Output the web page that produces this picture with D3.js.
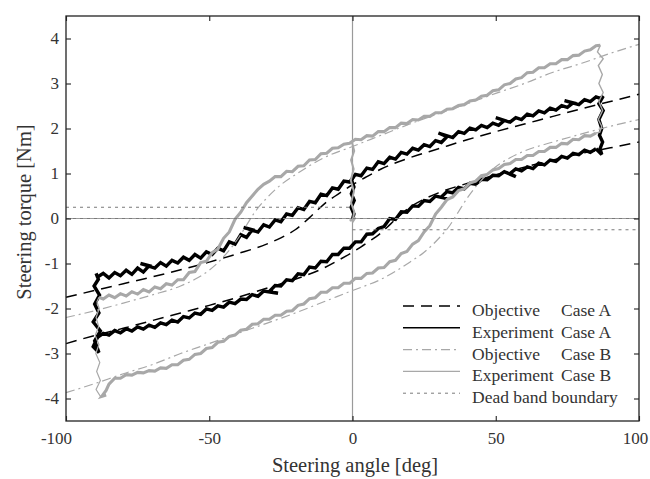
<!DOCTYPE html>
<html><head><meta charset="utf-8">
<script src="https://cdn.jsdelivr.net/npm/d3@7"></script>
<style>body{margin:0;background:#fff}svg{display:block}</style>
</head><body>
<svg id="c" width="650" height="479"></svg>
<script>
// ---------- data ----------
const xTicks = [-100, -50, 0, 50, 100];
const yTicks = [-4, -3, -2, -1, 0, 1, 2, 3, 4];

// Objective, Case A (upper and lower branches) [angle, torque]
const objA_upper = [[-100,-1.75],[-90,-1.6],[-80,-1.45],[-70,-1.3],[-60,-1.14],[-50,-0.97],[-40,-0.78],[-30,-0.57],[-25,-0.43],[-20,-0.25],[-15,0.02],[-12,0.2],[-9,0.37],[-6,0.5],[-3,0.63],[0,0.75],[5,0.93],[10,1.1],[20,1.35],[30,1.55],[40,1.75],[50,1.93],[60,2.1],[70,2.27],[80,2.44],[90,2.6],[100,2.76]];
const objA_lower = [[-100,-2.78],[-90,-2.6],[-80,-2.44],[-70,-2.27],[-60,-2.1],[-50,-1.93],[-40,-1.75],[-30,-1.55],[-20,-1.35],[-10,-1.1],[-5,-0.93],[0,-0.75],[3,-0.63],[6,-0.5],[9,-0.37],[12,-0.2],[15,-0.02],[20,0.25],[25,0.43],[30,0.57],[40,0.78],[50,0.97],[60,1.14],[70,1.3],[80,1.45],[90,1.57],[100,1.7]];

// Objective, Case B
const objB_upper = [[-100,-2.2],[-90,-2.05],[-80,-1.88],[-70,-1.7],[-60,-1.5],[-55,-1.35],[-50,-1.15],[-45,-0.85],[-40,-0.45],[-37,-0.15],[-34,0.15],[-30,0.45],[-25,0.75],[-20,0.97],[-10,1.35],[0,1.6],[10,1.85],[20,2.1],[30,2.33],[40,2.55],[50,2.78],[60,3.0],[70,3.25],[80,3.45],[90,3.67],[100,3.87]];
const objB_lower = [[-100,-3.87],[-90,-3.67],[-80,-3.45],[-70,-3.25],[-60,-3.0],[-50,-2.78],[-40,-2.55],[-30,-2.33],[-20,-2.1],[-10,-1.85],[0,-1.6],[10,-1.35],[20,-0.97],[25,-0.75],[30,-0.45],[34,-0.15],[37,0.15],[40,0.45],[45,0.85],[50,1.15],[55,1.35],[60,1.5],[70,1.7],[80,1.88],[90,2.05],[100,2.2]];

// Experiment, Case A
const expA_start = [[0,-0.02],[0.5,0.1],[-0.5,0.25],[0.6,0.4],[-0.4,0.55],[0.5,0.7],[-0.3,0.85],[0.4,0.95]];
const expA_upper = [[-89,-1.30],[-87,-1.22],[-85,-1.32],[-83,-1.2],[-81,-1.27],[-79,-1.15],[-77,-1.24],[-75,-1.1],[-73,-1.19],[-71,-1.05],[-74,-1.0],[-69,-1.1],[-67,-0.98],[-65,-1.06],[-63,-0.93],[-61,-0.99],[-59,-0.86],[-57,-0.93],[-55,-0.8],[-53,-0.88],[-51,-0.74],[-49,-0.8],[-47,-0.66],[-45,-0.72],[-43,-0.52],[-41,-0.57],[-39,-0.36],[-37,-0.42],[-35,-0.25],[-38,-0.2],[-33,-0.3],[-31,-0.14],[-29,-0.19],[-27,-0.03],[-25,-0.07],[-23,0.1],[-21,0.07],[-19,0.24],[-17,0.2],[-15,0.38],[-13,0.35],[-11,0.54],[-9,0.51],[-7,0.68],[-5,0.65],[-3,0.83],[-1,0.81],[1,0.98],[3,0.95],[5,1.12],[7,1.09],[9,1.26],[11,1.22],[13,1.36],[15,1.32],[17,1.47],[19,1.43],[21,1.56],[23,1.52],[25,1.64],[27,1.6],[29,1.73],[31,1.69],[33,1.82],[30,1.9],[35,1.8],[37,1.93],[39,1.89],[41,2.01],[43,1.97],[45,2.07],[47,2.02],[49,2.12],[51,2.07],[53,2.18],[50,2.24],[55,2.14],[57,2.24],[59,2.2],[61,2.32],[63,2.28],[65,2.39],[67,2.35],[69,2.45],[71,2.41],[73,2.51],[75,2.47],[77,2.57],[74,2.62],[79,2.53],[81,2.64],[83,2.6],[85,2.7],[86.5,2.67]];
const expA_right = [[86.5,2.67],[87.5,2.72],[86,2.55],[87.5,2.4],[86,2.2],[87,2.0],[86.2,1.85],[87.3,1.7],[86.4,1.55],[87,1.42],[85,1.55]];
const expA_lower = [[85,1.55],[83,1.47],[81,1.52],[79,1.42],[77,1.45],[75,1.34],[73,1.38],[71,1.27],[69,1.3],[67,1.19],[65,1.23],[63,1.11],[61,1.15],[59,1.06],[57,1.1],[55,1.0],[57,0.93],[53,1.04],[51,0.95],[49,0.96],[47,0.86],[45,0.87],[43,0.76],[41,0.78],[39,0.66],[37,0.69],[35,0.57],[33,0.6],[31,0.48],[33,0.44],[29,0.5],[27,0.38],[25,0.4],[23,0.27],[21,0.28],[19,0.14],[17,0.15],[15,-0.02],[13,0.0],[11,-0.18],[9,-0.22],[7,-0.34],[5,-0.35],[3,-0.52],[1,-0.52],[-1,-0.66],[-3,-0.66],[-5,-0.8],[-7,-0.8],[-9,-0.96],[-11,-0.95],[-13,-1.1],[-15,-1.08],[-17,-1.25],[-19,-1.23],[-21,-1.38],[-23,-1.36],[-25,-1.5],[-27,-1.49],[-29,-1.62],[-26,-1.66],[-31,-1.61],[-33,-1.73],[-35,-1.69],[-37,-1.8],[-39,-1.79],[-41,-1.89],[-43,-1.86],[-45,-1.97],[-47,-1.94],[-49,-2.04],[-51,-2.01],[-53,-2.13],[-55,-2.1],[-57,-2.21],[-59,-2.18],[-61,-2.3],[-63,-2.26],[-65,-2.36],[-67,-2.32],[-69,-2.42],[-71,-2.37],[-73,-2.46],[-75,-2.41],[-77,-2.5],[-79,-2.45],[-81,-2.54],[-83,-2.49],[-85,-2.59],[-87,-2.55],[-89,-2.64]];
const expA_left = [[-89,-2.64],[-90.5,-2.85],[-88.5,-2.98],[-90,-2.72],[-88,-2.5],[-90.5,-2.3],[-88.5,-2.1],[-90,-1.9],[-88.3,-1.7],[-90.2,-1.5],[-88.7,-1.35],[-89.5,-1.22],[-89,-1.3]];

// Experiment, Case B
const expB_start = [[-1,-0.05],[1,0.02],[0,-0.08],[0.6,0.15],[-0.5,0.35],[0.5,0.6],[-0.6,0.85],[0.4,1.1],[-0.5,1.3],[0.6,1.5],[-0.2,1.7]];
const expB_upper = [[-88.5,-1.75],[-87,-1.79],[-85,-1.7],[-83,-1.76],[-81,-1.67],[-79,-1.72],[-77,-1.63],[-75,-1.68],[-73,-1.58],[-71,-1.63],[-69,-1.52],[-67,-1.56],[-65,-1.45],[-63,-1.48],[-61,-1.36],[-59,-1.36],[-57,-1.2],[-55,-1.18],[-53,-0.98],[-51,-0.95],[-49,-0.76],[-47,-0.68],[-45,-0.44],[-43,-0.3],[-41,-0.02],[-39,0.14],[-37,0.35],[-35,0.5],[-33,0.65],[-31,0.76],[-29,0.83],[-27,0.93],[-25,0.93],[-23,1.05],[-21,1.04],[-19,1.16],[-17,1.17],[-15,1.3],[-13,1.31],[-11,1.44],[-9,1.45],[-7,1.56],[-5,1.57],[-3,1.65],[-1,1.67],[1,1.76],[3,1.75],[5,1.84],[7,1.83],[9,1.93],[11,1.93],[13,2.02],[15,2.02],[17,2.12],[19,2.11],[21,2.2],[23,2.19],[25,2.27],[27,2.27],[29,2.35],[31,2.35],[33,2.43],[35,2.44],[37,2.51],[39,2.53],[41,2.61],[43,2.63],[45,2.72],[47,2.74],[49,2.84],[51,2.86],[53,2.97],[55,3.0],[57,3.1],[59,3.13],[61,3.24],[63,3.25],[65,3.35],[67,3.35],[69,3.44],[71,3.44],[73,3.53],[75,3.53],[77,3.62],[79,3.63],[81,3.72],[83,3.75],[85,3.84],[86.5,3.85]];
const expB_right = [[86.5,3.85],[85.5,3.7],[87.5,3.55],[85.8,3.4],[87.2,3.2],[86,3.0],[87.5,2.8],[86,2.6],[87.3,2.4],[85.8,2.2],[87,2.05],[86.3,1.92],[85,1.9]];
const expB_lower = [[85,1.9],[83,1.83],[81,1.84],[79,1.75],[77,1.76],[75,1.66],[73,1.67],[71,1.58],[69,1.58],[67,1.49],[65,1.49],[63,1.4],[61,1.4],[59,1.31],[57,1.31],[55,1.22],[53,1.2],[51,1.11],[49,1.08],[47,0.98],[45,0.95],[43,0.83],[41,0.79],[39,0.66],[37,0.62],[35,0.48],[33,0.42],[31,0.25],[29,0.1],[27,-0.16],[25,-0.3],[23,-0.49],[21,-0.57],[19,-0.73],[17,-0.78],[15,-0.93],[13,-0.96],[11,-1.09],[9,-1.1],[7,-1.21],[5,-1.22],[3,-1.33],[1,-1.33],[-1,-1.44],[-3,-1.44],[-5,-1.54],[-7,-1.54],[-9,-1.64],[-11,-1.64],[-13,-1.76],[-15,-1.78],[-17,-1.9],[-19,-1.93],[-21,-2.05],[-23,-2.06],[-25,-2.15],[-27,-2.15],[-29,-2.24],[-31,-2.24],[-33,-2.34],[-35,-2.35],[-37,-2.46],[-39,-2.48],[-41,-2.59],[-43,-2.62],[-45,-2.73],[-47,-2.75],[-49,-2.87],[-51,-2.89],[-53,-3.0],[-55,-3.02],[-57,-3.13],[-59,-3.15],[-61,-3.25],[-63,-3.25],[-65,-3.33],[-67,-3.32],[-69,-3.39],[-71,-3.38],[-73,-3.43],[-75,-3.42],[-77,-3.48],[-79,-3.47],[-81,-3.55],[-83,-3.55],[-85,-3.68],[-86,-3.82],[-87.5,-3.95],[-86,-3.92]];
const expB_left = [[-86,-3.92],[-88,-3.95],[-89.5,-3.8],[-88,-3.6],[-89.3,-3.4],[-88.2,-3.2],[-89.6,-3.0],[-88.5,-2.8],[-89.8,-2.6],[-88.6,-2.4],[-89.5,-2.2],[-88.4,-2.0],[-89.2,-1.85],[-88.5,-1.75]];

// Dead band boundary
const deadBand = [
  [[-100,0.25],[0,0.25]],
  [[-100,0],[100,0]],
  [[0,-0.25],[100,-0.25]]
];

const legendLabels = [
  ["Objective","Case A"],
  ["Experiment","Case A"],
  ["Objective","Case B"],
  ["Experiment","Case B"],
  ["Dead band boundary",""]
];

// ---------- drawing ----------
const svg = d3.select("#c");
const L = 66, R = 639, T = 16, B = 421;
const x = d3.scaleLinear().domain([-100,100]).range([L,R]);
const y = d3.scaleLinear().domain([-4.5,4.5]).range([B,T]);
const font = "'Liberation Serif','Times New Roman',serif";
const line = d3.line().x(d=>x(d[0])).y(d=>y(d[1]));
const smooth = d3.line().x(d=>x(d[0])).y(d=>y(d[1])).curve(d3.curveMonotoneX);

const gray = "#a8a8a8";

// zero axes
svg.append("line").attr("x1",x(0)).attr("x2",x(0)).attr("y1",T).attr("y2",B)
  .attr("stroke","#9a9a9a").attr("stroke-width",1.2);
svg.append("line").attr("x1",L).attr("x2",R).attr("y1",y(0)).attr("y2",y(0))
  .attr("stroke","#9a9a9a").attr("stroke-width",1.2);

const styles = {
  objA: {stroke:"#000", width:1.5, dash:"11,7"},
  expA: {stroke:"#000", width:3.4, dash:null},
  objB: {stroke:gray, width:1.2, dash:"9,4,2,4"},
  expB: {stroke:gray, width:3.1, dash:null},
  dead: {stroke:"#7a7a7a", width:1, dash:"3,4"}
};

function draw(data, st, gen) {
  svg.append("path").datum(data).attr("d", gen || line)
    .attr("fill","none").attr("stroke",st.stroke).attr("stroke-width",st.width)
    .attr("stroke-linejoin","miter").attr("stroke-miterlimit",4)
    .attr("stroke-dasharray",st.dash);
}

draw(objA_upper, styles.objA, smooth);
draw(objA_lower, styles.objA, smooth);
[expA_start, expA_upper, expA_right, expA_lower, expA_left].forEach(d=>draw(d, styles.expA));
draw(objB_upper, styles.objB, smooth);
draw(objB_lower, styles.objB, smooth);
draw(expB_right, {stroke:gray,width:1.4});
draw(expB_left, {stroke:gray,width:1.2});
draw(expB_start, {stroke:gray,width:2});
[expB_upper, expB_lower].forEach(d=>draw(d, styles.expB));
deadBand.forEach(d=>draw(d, styles.dead));

// frame
svg.append("rect").attr("x",L).attr("y",T).attr("width",R-L).attr("height",B-T)
  .attr("fill","none").attr("stroke","#222").attr("stroke-width",1.3);

// axes
function styleAxis(g){
  g.select(".domain").remove();
  g.selectAll(".tick line").attr("stroke","#222").attr("stroke-width",1.1);
  g.selectAll("text").attr("font-family",font).attr("font-size",17).attr("fill","#333");
}
const gx = svg.append("g").attr("transform",`translate(0,${B})`)
  .call(d3.axisBottom(x).tickValues(xTicks).tickSizeInner(-5).tickSizeOuter(0).tickPadding(11).tickFormat(d=>String(d)))
  .call(styleAxis);
// keep the end labels inside the figure, as in the reference
gx.selectAll(".tick text").attr("dx", d => d === -100 ? -10 : (d === 100 ? -4 : 0));
svg.append("g").attr("transform",`translate(0,${T})`)
  .call(d3.axisTop(x).tickValues(xTicks).tickSizeInner(-5).tickSizeOuter(0).tickFormat(""))
  .call(styleAxis);
svg.append("g").attr("transform",`translate(${L},0)`)
  .call(d3.axisLeft(y).tickValues(yTicks).tickSizeInner(-5).tickSizeOuter(0).tickPadding(7).tickFormat(d=>String(d)))
  .call(styleAxis);
svg.append("g").attr("transform",`translate(${R},0)`)
  .call(d3.axisRight(y).tickValues(yTicks).tickSizeInner(-5).tickSizeOuter(0).tickFormat(""))
  .call(styleAxis);

// titles
svg.append("text").attr("x",355).attr("y",472).attr("text-anchor","middle")
  .attr("font-family",font).attr("font-size",20.5).attr("fill","#333").text("Steering angle [deg]");
svg.append("text").attr("transform","translate(31,212) rotate(-90)").attr("text-anchor","middle")
  .attr("font-family",font).attr("font-size",20.5).attr("fill","#333").text("Steering torque [Nm]");

// legend
const legStyles = [styles.objA, {stroke:"#000",width:1.6}, styles.objB, {stroke:gray,width:1.2}, styles.dead];
const lg = svg.append("g");
legendLabels.forEach((lab,i)=>{
  const by = 316 + i*21.8;
  lg.append("line").attr("x1",403).attr("x2",460).attr("y1",by-10).attr("y2",by-10)
    .attr("stroke",legStyles[i].stroke).attr("stroke-width",legStyles[i].width)
    .attr("stroke-dasharray",legStyles[i].dash);
  lg.append("text").attr("x",472).attr("y",by).attr("font-family",font).attr("font-size",17.5)
    .attr("fill","#333").text(lab[0]);
  if (lab[1]) lg.append("text").attr("x",561).attr("y",by).attr("font-family",font).attr("font-size",17.5)
    .attr("fill","#333").text(lab[1]);
});
</script>
</body></html>
